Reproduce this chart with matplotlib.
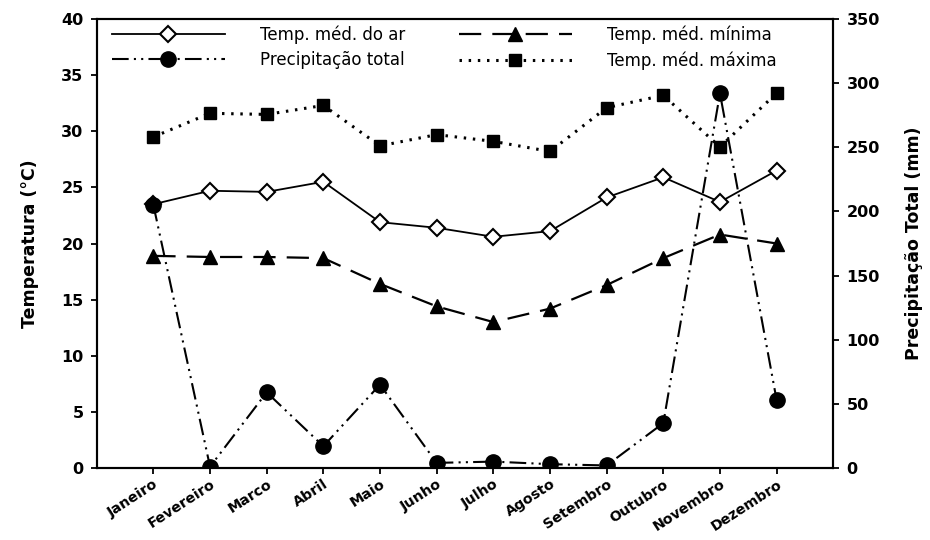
import matplotlib
matplotlib.use("Agg")
import matplotlib.pyplot as plt

# fonte larga, como no original
plt.rcParams['font.family'] = ['DejaVu Sans']

# dados mensais
meses = ["Janeiro", "Fevereiro", "Marco", "Abril", "Maio", "Junho", "Julho",
         "Agosto", "Setembro", "Outubro", "Novembro", "Dezembro"]
temp_media = [23.5, 24.7, 24.6, 25.5, 21.9, 21.4, 20.6, 21.1, 24.1, 25.9, 23.7, 26.5]
temp_minima = [18.9, 18.8, 18.8, 18.7, 16.4, 14.4, 13.0, 14.2, 16.3, 18.7, 20.8, 20.0]
temp_maxima = [29.5, 31.6, 31.5, 32.3, 28.7, 29.7, 29.1, 28.2, 32.1, 33.2, 28.6, 33.4]
precipitacao = [205, 1, 59, 17, 65, 4, 5, 3, 2, 35, 292, 53]

x = list(range(1, 13))

fig = plt.figure(figsize=(9.3, 5.4), dpi=100)
ax = fig.add_axes([0.104, 0.1333, 0.792, 0.8315])
ax2 = ax.twinx()

l1, = ax.plot(x, temp_media, color="black", lw=1.3, marker="D", ms=8,
              mfc="white", mec="black", mew=1.5, label="Temp. méd. do ar")
l3, = ax.plot(x, temp_minima, color="black", lw=1.6, ls=(0, (10, 5)),
              marker="^", ms=10, mfc="black", label="Temp. méd. mínima")
l4, = ax.plot(x, temp_maxima, color="black", lw=2.2, ls=(0, (0.8, 2.2)),
              marker="s", ms=8.5, mfc="black", label="Temp. méd. máxima")
l2, = ax2.plot(x, precipitacao, color="black", lw=1.5,
               ls=(0, (8, 2.5, 1, 2.5, 1, 2.5)), marker="o", ms=11,
               mfc="black", label="Precipitação total")

ax.set_xlim(0, 13)
ax.set_ylim(0, 40)
ax2.set_ylim(0, 350)
ax.set_yticks(range(0, 41, 5))
ax2.set_yticks(range(0, 351, 50))
ax.set_xticks(x)

for a in (ax, ax2):
    a.tick_params(direction="out", length=4.5, width=1.3, labelsize=11.5, pad=5)
    for s in a.spines.values():
        s.set_linewidth(1.5)
ax.tick_params(axis="x", pad=2)
ax.set_xticklabels(meses, rotation=33, ha="right", rotation_mode="anchor",
                   fontweight="bold", fontsize=10.3)
for lab in ax.get_yticklabels() + ax2.get_yticklabels():
    lab.set_fontweight("bold")

ax.set_ylabel("Temperatura (°C)", fontsize=12.5, fontweight="bold", labelpad=16)
ax2.set_ylabel("Precipitação Total (mm)", fontsize=12.5, fontweight="bold", labelpad=18)

ax.legend([l1, l2, l3, l4],
          ["Temp. méd. do ar", "Precipitação total", "Temp. méd. mínima", "Temp. méd. máxima"],
          ncol=2, loc="upper left", bbox_to_anchor=(0.0, 1.02), frameon=False,
          fontsize=12, handlelength=6.8, handletextpad=2.1, columnspacing=3.2,
          labelspacing=0.45)

fig.savefig("out.png", dpi=100)
